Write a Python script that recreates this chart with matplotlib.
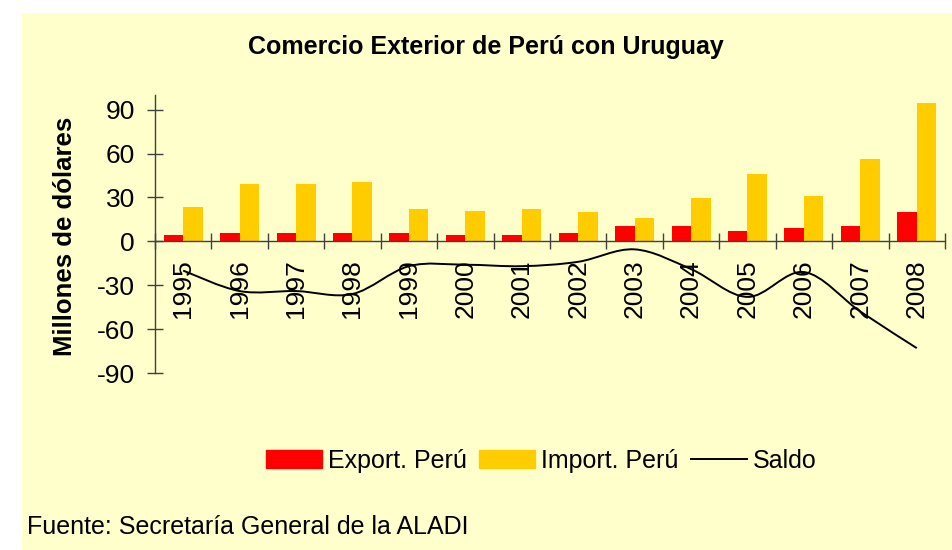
import numpy as np
import matplotlib.pyplot as plt
from matplotlib.patches import Rectangle, Patch, PathPatch
from matplotlib.lines import Line2D
from matplotlib.path import Path

plt.rcParams['font.family'] = ['Liberation Sans', 'DejaVu Sans']
plt.rcParams['axes.unicode_minus'] = False

years = ['1995', '1996', '1997', '1998', '1999', '2000', '2001',
         '2002', '2003', '2004', '2005', '2006', '2007', '2008']
export_peru = [4.1, 5.4, 5.4, 5.4, 5.4, 4.1, 4.1, 5.4, 10.2, 10.2, 6.8, 8.8, 10.2, 19.7]
import_peru = [23.7, 39.3, 39.3, 40.7, 22.4, 21.0, 22.4, 19.7, 15.6, 29.9, 46.1, 31.2, 56.3, 94.3]
saldo = [-20, -34, -34, -36, -17, -16, -17, -14, -5.5, -19, -38, -21, -48, -73]

fig = plt.figure(figsize=(9.53, 5.5), dpi=100)
fig.patches.append(Rectangle((22 / 953, 0), 1 - 22 / 953, 1 - 13 / 550,
                             transform=fig.transFigure, facecolor='#FFFFCC',
                             edgecolor='none', zorder=-10))

ax = fig.add_axes([0.1626, 0.3218, 0.829, 0.5055])
ax.set_facecolor('none')
ax.set_zorder(5)

x = np.arange(len(years))
w = 0.345
ax.bar(x - w / 2, export_peru, w, color='#FF0000', zorder=2)
ax.bar(x + w / 2, import_peru, w, color='#FFCC00', zorder=2)

# smoothed saldo line (cubic bezier through points)
pts = np.column_stack([x, saldo]).astype(float)
verts = [pts[0]]
codes = [Path.MOVETO]
for i in range(len(pts) - 1):
    p0 = pts[max(i - 1, 0)]
    p1 = pts[i]
    p2 = pts[i + 1]
    p3 = pts[min(i + 2, len(pts) - 1)]
    verts += [p1 + (p2 - p0) / 6, p2 - (p3 - p1) / 6, p2]
    codes += [Path.CURVE4] * 3
ax.add_patch(PathPatch(Path(verts, codes), facecolor='none', edgecolor='black',
                       lw=1.4, zorder=3))

ax.set_xlim(-0.5, 13.5)
ax.set_ylim(-90, 100)
ax.set_yticks(range(-90, 91, 30))
ax.set_xticks(np.arange(-0.5, 14, 1))
ax.set_xticklabels([])

for s in ['top', 'right']:
    ax.spines[s].set_visible(False)
ax.spines['bottom'].set_position(('data', 0))
for s in ['left', 'bottom']:
    ax.spines[s].set_color('#404040')
    ax.spines[s].set_linewidth(1.0)
ax.spines['bottom'].set_zorder(4)

ax.tick_params(axis='y', direction='inout', length=11.5, width=1.0,
               color='#404040', labelsize=19, pad=8.6)
ax.tick_params(axis='x', direction='inout', length=11.5, width=1.0,
               color='#404040')

for i, yr in enumerate(years):
    ax.text(i, -12.5, yr, rotation=90, ha='center', va='top', fontsize=19)

fig.text(0.51, 0.9145, 'Comercio Exterior de Perú con Uruguay',
         ha='center', va='center', fontsize=18, fontweight='bold')
fig.text(0.068, 0.571, 'Millones de dólares', rotation=90,
         ha='center', va='center', fontsize=18.5, fontweight='bold')
fig.text(0.0283, 0.0418, 'Fuente: Secretaría General de la ALADI',
         ha='left', va='center', fontsize=18)

handles = [Patch(color='#FF0000'), Patch(color='#FFCC00'),
           Line2D([], [], color='black', lw=1.4)]
fig.legend(handles, ['Export. Perú', 'Import. Perú', 'Saldo'], ncol=3,
           loc='center', bbox_to_anchor=(0.568, 0.1624), frameon=False,
           fontsize=18, handlelength=2.24, handleheight=0.72,
           handletextpad=0.22, columnspacing=0.52)

fig.savefig('out.png', dpi=100)
